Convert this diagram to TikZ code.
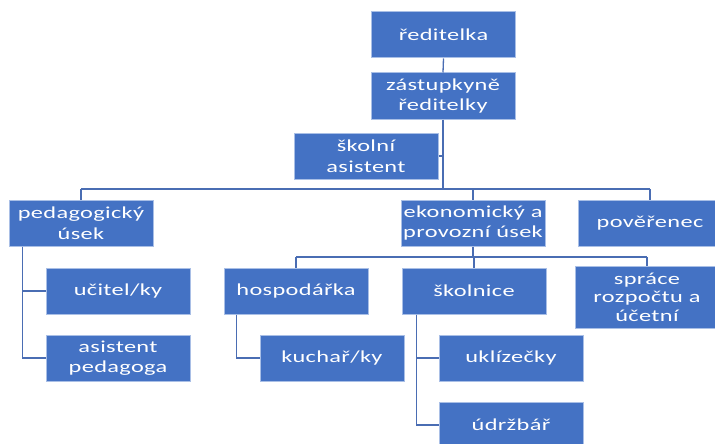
\documentclass[tikz,border=0pt]{standalone}
\usepackage{fontspec}
\setmainfont{Carlito}[FakeStretch=1.45, LetterSpace=2]
\definecolor{boxfill}{HTML}{4472C4}
\definecolor{boxline}{HTML}{A9BFE6}
\definecolor{conn}{HTML}{4A6DB3}
\tikzset{
  orgbox/.style={rectangle, fill=boxfill, draw=boxline, line width=1pt,
    minimum width=144pt, minimum height=46pt, inner sep=0pt, align=center,
    text=white, font=\fontsize{16.8}{20.5}\selectfont},
  link/.style={draw=conn, line width=1.3pt}
}
\begin{document}
\begin{tikzpicture}[x=1pt, y=-1pt]
\fill[white] (0,0) rectangle (715,444);
\useasboundingbox (0,0) rectangle (715,444);
\begin{scope}
\clip (0,0) rectangle (715,444);
\node[orgbox] (red) at (443.5,35) {ředitelka};
\node[orgbox] (zast) at (443,96) {zástupkyně\\ředitelky};
\node[orgbox] (skas) at (366,156) {školní\\asistent};
\node[orgbox] (ped) at (81,223) {pedagogický\\úsek};
\node[orgbox] (eko) at (473,223) {ekonomický a\\provozní úsek};
\node[orgbox] (pov) at (650,223) {pověřenec};
\node[orgbox] (hosp) at (296,291) {hospodářka};
\node[orgbox] (skoln) at (474,291) {školnice};
\node[orgbox, minimum height=62pt, font=\fontsize{16.8}{18.5}\selectfont] (sprace) at (647,297) {spráce\\rozpočtu a\\účetní};
\node[orgbox] (ucit) at (118,291) {učitel/ky};
\node[orgbox] (asped) at (118,358) {asistent\\pedagoga};
\node[orgbox] (kuch) at (332,358) {kuchař/ky};
\node[orgbox] (ukl) at (511,358) {uklízečky};
\node[orgbox] (udrz) at (511,425) {údržbář};

\coordinate (busL) at (81,189);
\coordinate (busR) at (650,189);
\coordinate (bus2L) at (296,257);
\coordinate (bus2R) at (647,257);

\draw[link] (red.south) -- (zast.north);
\draw[link] (zast.south) -- (zast.south |- busL);
\draw[link] (skas.east) -- (skas.east -| zast.south);
\draw[link] (busL) -- (busR);
\draw[link] (busL) -- (ped.north);
\draw[link] (eko.north |- busL) -- (eko.north);
\draw[link] (busR) -- (pov.north);

\draw[link] (eko.south) -- (eko.south |- bus2L);
\draw[link] (bus2L) -- (bus2R);
\draw[link] (bus2L) -- (hosp.north);
\draw[link] (skoln.north |- bus2L) -- (skoln.north);
\draw[link] (bus2R) -- (sprace.north);

\draw[link] ([xshift=14pt]ped.south west) |- (ucit.west);
\draw[link] ([xshift=14pt]ped.south west) |- (asped.west);
\draw[link] ([xshift=13pt]hosp.south west) |- (kuch.west);
\draw[link] ([xshift=15pt]skoln.south west) |- (ukl.west);
\draw[link] ([xshift=15pt]skoln.south west) |- (udrz.west);
\end{scope}
\end{tikzpicture}
\end{document}
